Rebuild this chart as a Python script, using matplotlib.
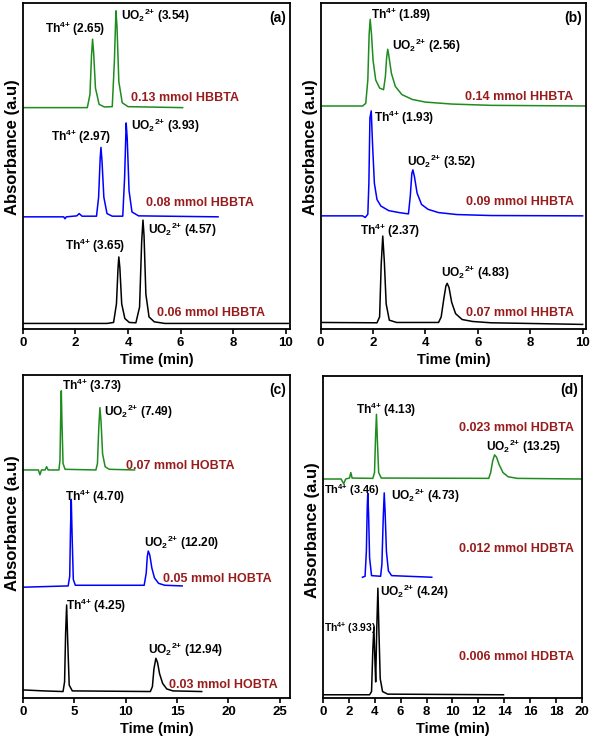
#!/usr/bin/env python3
# plot.py
#
# Chromatograms of Th(IV) / UO2(2+) separations at different modifier loadings.
# Four panels: (a) HBBTA, (b) HHBTA, (c) HOBTA, (d) HDBTA.
# Traces are stacked with a vertical offset (absorbance in arbitrary units).

import matplotlib
matplotlib.use("Agg")
import matplotlib.pyplot as plt

plt.rcParams["font.family"] = ["Liberation Sans", "DejaVu Sans"]
plt.rcParams["font.weight"] = "bold"
plt.rcParams["mathtext.fontset"] = "custom"
plt.rcParams["mathtext.rm"] = "Liberation Sans:bold"
plt.rcParams["mathtext.bf"] = "Liberation Sans:bold"
plt.rcParams["mathtext.default"] = "bf"

# ---------------------------------------------------------------------------
# Data (time in min, signal in a.u. above baseline)
# ---------------------------------------------------------------------------

# panel (a) - HBBTA
a_black_t = [0, 3.2, 3.45, 3.56, 3.62, 3.65, 3.69, 3.76, 3.88, 4.05, 4.3, 4.44, 4.52, 4.57, 4.61, 4.68, 4.8, 5.0, 5.4, 10.1]
a_black_y = [0, 0, 0.3, 6, 17, 20.4, 17, 6, 1.5, 0.3, 0.2, 5, 25, 31.7, 27, 9, 2, 0.5, 0, 0]
a_blue_t = [0, 1.55, 1.6, 1.65, 2.05, 2.14, 2.25, 2.8, 2.88, 2.94, 2.97, 3.01, 3.08, 3.2, 3.4, 3.8, 3.87, 3.93, 3.97, 4.04, 4.15, 4.4, 7.43]
a_blue_y = [0, 0, -0.6, 0, 0.3, 1.0, 0.2, 0.2, 6, 18, 21.3, 17, 6, 1, 0.2, 0.2, 12, 28.8, 24, 8, 1.5, 0.3, 0]
a_green_t = [0, 2.45, 2.55, 2.61, 2.65, 2.69, 2.76, 2.9, 3.1, 3.4, 3.48, 3.54, 3.58, 3.65, 3.78, 4.0, 6.08]
a_green_y = [0, 0, 4, 16, 21, 17, 6, 1, 0.2, 0.3, 14, 29.7, 25, 8, 1.5, 0.3, 0]

# panel (b) - HHBTA
b_black_t = [0, 2.15, 2.25, 2.31, 2.37, 2.43, 2.5, 2.62, 2.9, 4.5, 4.6, 4.7, 4.78, 4.83, 4.9, 5.0, 5.15, 5.4, 5.8, 6.5, 10.0]
b_black_y = [0.3, 0.2, 2, 18, 26.8, 19, 6, 1, 0.3, 0.3, 2, 7.5, 11.5, 12.3, 11, 6.5, 3, 1.2, 0.6, 0.2, -0.3]
b_blue_t = [0, 1.6, 1.7, 1.8, 1.84, 1.88, 1.93, 1.98, 2.05, 2.15, 2.3, 2.6, 3.0, 3.35, 3.42, 3.48, 3.52, 3.58, 3.68, 3.85, 4.1, 4.5, 5.2, 6.5, 10.0]
b_blue_y = [0, 0, -0.5, 0.5, 10, 30, 32.2, 22, 10, 5, 3, 1.6, 1, 0.6, 6, 13, 14.1, 12, 7, 3.5, 2, 1, 0.4, 0.1, 0]
b_green_t = [0, 1.6, 1.72, 1.8, 1.85, 1.89, 1.94, 2.0, 2.1, 2.25, 2.4, 2.47, 2.52, 2.56, 2.61, 2.7, 2.85, 3.1, 3.5, 4.0, 5.0, 6.5, 10.2]
b_green_y = [0, 0, 0.8, 8, 22, 26.6, 22, 14, 8, 5.5, 5, 9, 15, 17.4, 15, 10, 6, 3.5, 2, 1.2, 0.6, 0.2, 0]

# panel (c) - HOBTA
c_black_t = [0, 2, 3.9, 4.05, 4.15, 4.25, 4.35, 4.5, 4.8, 12.4, 12.6, 12.75, 12.94, 13.1, 13.3, 13.6, 14.0, 14.6, 17.4]
c_black_y = [0.5, 0.2, 0, 3, 18, 26.8, 16, 2, 0.2, 0, 1.5, 7, 10.3, 9, 5.5, 2.5, 0.8, 0.2, 0]
c_blue_t = [0, 4.4, 4.55, 4.63, 4.7, 4.78, 4.9, 5.1, 11.8, 12.0, 12.1, 12.2, 12.35, 12.55, 12.8, 13.2, 13.8, 15.5]
c_blue_y = [-0.4, 0, 3, 18, 26.8, 16, 2, 0.2, 0.2, 4, 9, 10.8, 9.5, 5.5, 2.5, 0.8, 0.2, 0]
c_green_t = [0, 1.5, 1.65, 1.8, 2.15, 2.3, 2.45, 3.5, 3.6, 3.67, 3.73, 3.8, 3.9, 4.1, 7.1, 7.25, 7.38, 7.49, 7.6, 7.75, 8.0, 8.4, 10.86]
c_green_y = [0, 0, -1.5, 0, 0, 1, 0, 0, 3, 16, 24.5, 14, 2, 0.2, 0, 2, 13, 19.3, 15, 5, 1, 0.2, 0]

# panel (d) - HDBTA
d_black_t = [0, 3.6, 3.75, 3.85, 3.93, 4.0, 4.07, 4.15, 4.24, 4.32, 4.42, 4.6, 5.0, 13.94]
d_black_y = [0, 0, 1, 14, 21, 12, 4, 20, 33.1, 20, 5, 1, 0.2, 0]
d_blue_t = [3.05, 3.25, 3.35, 3.42, 3.46, 3.52, 3.6, 3.75, 4.45, 4.55, 4.65, 4.73, 4.8, 4.9, 5.05, 5.3, 8.4]
d_blue_y = [0, 0.3, 8, 22, 26.1, 20, 6, 0.5, 0.3, 4, 18, 26.2, 20, 8, 2, 0.5, 0]
d_green_t = [0, 1.4, 1.6, 1.75, 2.05, 2.15, 2.25, 3.85, 3.98, 4.06, 4.13, 4.2, 4.3, 4.5, 12.8, 12.95, 13.1, 13.25, 13.4, 13.6, 13.9, 14.3, 15, 20]
d_green_y = [0, 0, -1.5, 0, 0.3, 2, 0.3, 0.2, 2, 13, 20.1, 12, 2, 0.3, 0.2, 2, 5.5, 7.5, 6.8, 4.5, 2, 0.7, 0.2, 0]

# stacking offsets (black, blue, green)
a_offsets = [1.7, 34.4, 67.9]
b_offsets = [1.7, 34.7, 68.4]
c_offsets = [2.0, 34.7, 70.6]
d_offsets = [1.0, 37.5, 68.0]

# loadings (black, blue, green)
a_loads = ["0.06 mmol HBBTA", "0.08 mmol HBBTA", "0.13 mmol HBBTA"]
b_loads = ["0.07 mmol HHBTA", "0.09 mmol HHBTA", "0.14 mmol HHBTA"]
c_loads = ["0.03 mmol HOBTA", "0.05 mmol HOBTA", "0.07 mmol HOBTA"]
d_loads = ["0.006 mmol HDBTA", "0.012 mmol HDBTA", "0.023 mmol HDBTA"]

# retention times (black, blue, green): Th4+, UO2 2+
a_rt_th = ["3.65", "2.97", "2.65"]
a_rt_u = ["4.57", "3.93", "3.54"]
b_rt_th = ["2.37", "1.93", "1.89"]
b_rt_u = ["4.83", "3.52", "2.56"]
c_rt_th = ["4.25", "4.70", "3.73"]
c_rt_u = ["12.94", "12.20", "7.49"]
d_rt_th = ["3.93", "3.46", "4.13"]
d_rt_u = ["4.24", "4.73", "13.25"]

COLORS = ["#000000", "#0000ff", "#1e8c1e"]
LOAD_COLOR = "#981c1c"

# label anchors (x in min, y in a.u.) for Th, U and loading text, per trace
a_pos = {"th": [(1.6, 25.5), (1.05, 59.0), (0.84, 92.2)],
         "u": [(4.77, 30.4), (4.1, 62.3), (3.72, 96.1)],
         "load": [(5.09, 4.8), (4.67, 38.6), (4.1, 71.0)]}
b_pos = {"th": [(1.51, 30.0), (2.05, 64.6), (1.91, 96.3)],
         "u": [(4.58, 17.3), (3.31, 51.3), (2.71, 86.9)],
         "load": [(5.53, 5.0), (5.53, 39.0), (5.51, 71.3)]}
c_pos = {"th": [(4.2, 28.5), (4.1, 62.3), (3.77, 96.6)],
         "u": [(12.16, 14.9), (11.8, 47.9), (7.93, 88.6)],
         "load": [(14.24, 4.0), (13.63, 36.7), (10.02, 71.9)]}
d_pos = {"th": [(0.1, 21.6), (0.1, 64.6), (2.53, 89.4)],
         "u": [(4.41, 32.8), (5.26, 62.7), (12.58, 78.0)],
         "load": [(10.47, 12.8), (10.47, 46.3), (10.47, 83.7)]}


def draw_panel(ax, traces, offsets, loads, rt_th, rt_u, pos, xmax, xticks, tag,
               ylabel_y=0.5, small_th=False):
    for (t, y), off, col in zip(traces, offsets, COLORS):
        ax.plot(t, [v + off for v in y], color=col, lw=1.1)

    for i in range(3):
        fs_th = 8.6
        if small_th and i == 0:
            fs_th = 7.4
        elif small_th and i == 1:
            fs_th = 7.9
        x, y = pos["th"][i]
        ax.text(x, y, "Th$^{4{+}}$ (" + rt_th[i] + ")", fontsize=fs_th, ha="left", va="center")
        x, y = pos["u"][i]
        ax.text(x, y, "UO$_2$$^{2{+}}$ (" + rt_u[i] + ")", fontsize=8.6, ha="left", va="center")
        x, y = pos["load"][i]
        ax.text(x, y, loads[i], fontsize=9.0, color=LOAD_COLOR, ha="left", va="center")

    ax.text(0.985, 0.955, tag, transform=ax.transAxes, fontsize=10, ha="right", va="center")

    ax.set_xlim(0, xmax)
    ax.set_ylim(0, 100)
    ax.set_xticks(xticks)
    ax.set_yticks([])
    ax.tick_params(axis="x", direction="out", length=3.5, width=1.2, labelsize=9.5, pad=2.5)
    for s in ax.spines.values():
        s.set_linewidth(1.3)
    ax.set_xlabel("Time (min)", fontsize=10.5, fontweight="bold", labelpad=3)
    ax.set_ylabel("Absorbance (a.u)", fontsize=12, fontweight="bold", labelpad=2)
    # label sits a little above the middle of the frame in the original
    ax.yaxis.label.set_y(ylabel_y)


def main():
    fig = plt.figure(figsize=(5.91, 7.47), dpi=100)
    ax_a = fig.add_axes([0.0389, 0.5596, 0.4518, 0.4364])
    ax_b = fig.add_axes([0.5426, 0.5596, 0.4490, 0.4364])
    ax_c = fig.add_axes([0.0389, 0.0656, 0.4518, 0.4324])
    ax_d = fig.add_axes([0.5465, 0.0656, 0.4382, 0.4311])

    draw_panel(ax_a, [(a_black_t, a_black_y), (a_blue_t, a_blue_y), (a_green_t, a_green_y)],
               a_offsets, a_loads, a_rt_th, a_rt_u, a_pos, 10.17, [0, 2, 4, 6, 8, 10], "(a)",
               ylabel_y=0.558)
    draw_panel(ax_b, [(b_black_t, b_black_y), (b_blue_t, b_blue_y), (b_green_t, b_green_y)],
               b_offsets, b_loads, b_rt_th, b_rt_u, b_pos, 10.13, [0, 2, 4, 6, 8, 10], "(b)",
               ylabel_y=0.558)
    draw_panel(ax_c, [(c_black_t, c_black_y), (c_blue_t, c_blue_y), (c_green_t, c_green_y)],
               c_offsets, c_loads, c_rt_th, c_rt_u, c_pos, 26.0, [0, 5, 10, 15, 20, 25], "(c)",
               ylabel_y=0.54)
    draw_panel(ax_d, [(d_black_t, d_black_y), (d_blue_t, d_blue_y), (d_green_t, d_green_y)],
               d_offsets, d_loads, d_rt_th, d_rt_u, d_pos, 20.0, list(range(0, 21, 2)), "(d)",
               ylabel_y=0.52, small_th=True)

    fig.savefig("out.png", dpi=100)


if __name__ == "__main__":
    main()
